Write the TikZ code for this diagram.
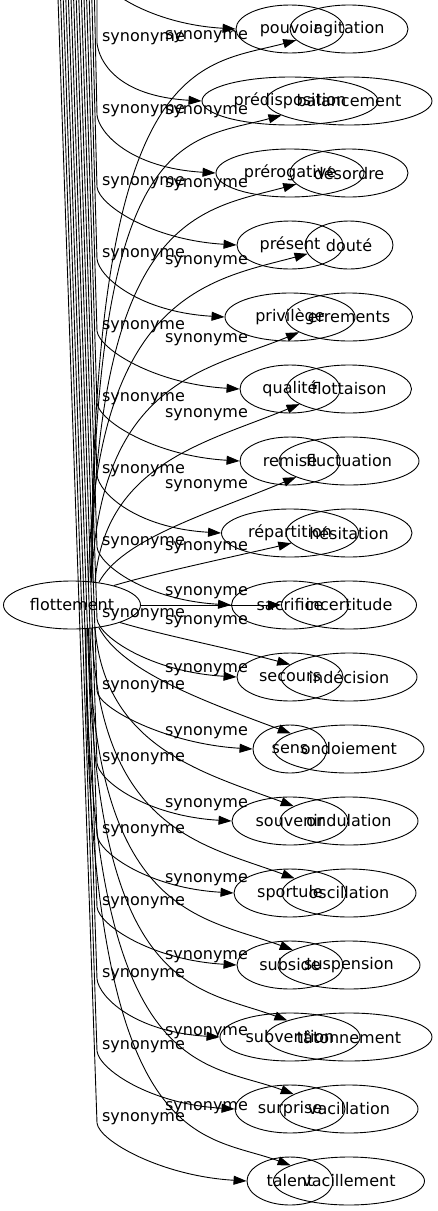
\documentclass[tikz,border=0pt]{standalone}
\usepackage{fontspec}
\setmainfont{DejaVu Sans}
\usetikzlibrary{arrows.meta,shapes.geometric}
\tikzset{
  word/.style={ellipse, draw, line width=0.9pt, inner sep=0pt, minimum height=48pt, font=\fontsize{16}{18}\selectfont},
  lbl/.style={inner sep=0pt, font=\fontsize{16}{18}\selectfont},
  syn/.style={line width=0.9pt, -{Triangle[length=13pt,width=9pt]}}
}
\begin{document}
\begin{tikzpicture}[x=1pt,y=-1pt]
\clip (0,0) rectangle (437,1211);
\node[word, minimum width=137pt] (flottement) at (72,605) {flottement};
% first column of words
\foreach \k/\w/\n in {0/108/pouvoir, 1/176/prédisposition, 2/148/prérogative, 3/106/présent,
  4/130/privilège, 5/100/qualité, 6/100/remise, 7/137/répartition, 8/117/sacrifice,
  9/106/secours, 10/74/sens, 11/116/souvenir, 12/112/sportule, 13/106/subside,
  14/140/subvention, 15/110/surprise, 16/86/talent}
  \node[word, minimum width=\w pt] (wa\k) at (290,29+72*\k) {\n};
% second column of words
\foreach \k/\w/\n in {0/118/agitation, 1/166/balancement, 2/118/désordre, 3/88/douté,
  4/127/errements, 5/125/flottaison, 6/140/fluctuation, 7/126/hésitation, 8/135/incertitude,
  9/136/indécision, 10/150/ondoiement, 11/138/ondulation, 12/134/oscillation,
  13/142/suspension, 14/166/tâtonnement, 15/138/vacillation, 16/151/vacillement}
  \node[word, minimum width=\w pt] (wb\k) at (349,29+72*\k) {\n};
% edges coming down from above
\coordinate (bend0) at (97,-29);
\draw[syn] (bend0) .. controls +(2,18) and +(-85,-5) .. (wa0.west);
\foreach \k in {1,...,16}{
  \coordinate (top\k) at ({97-2.6*(\k-1)},-2);
  \coordinate (bend\k) at (97,{72*\k-29});
  \draw[syn] (top\k) -- (bend\k) .. controls +(2,18) and +(-85,-5) .. (wa\k.west);
  \node[lbl] (la\k) at (143.5,{72*\k-33}) {synonyme};
}
% edges from flottement
\draw[syn] (flottement) -- (wb8);
\foreach \k/\s/\ax/\ay/\bx/\by/\e in {0/50/0/-530/-97/26/192, 1/50/2/-454/-97/26/192,
  2/50/4/-367/-97/26/192, 3/55/5/-288/-97/26/192, 4/50/8/-202/-92/38/197,
  5/45/10/-119/-92/38/197, 6/40/23/-43/-92/38/197, 7/25/40/-12/-60/14/190,
  9/340/40/12/-60/-16/168, 10/320/23/43/-92/-34/165, 11/315/10/119/-92/-34/165,
  12/310/8/202/-92/-34/165, 13/305/5/288/-92/-34/165, 14/305/4/367/-92/-34/165,
  15/300/2/454/-92/-34/165, 16/300/0/530/-92/-34/165}
  \draw[syn] (flottement.\s) .. controls +(\ax,\ay) and +(\bx,\by) .. (wb\k.\e);
\foreach \k/\y in {0/37, 1/112, 2/185, 3/262, 4/340, 5/415, 6/486, 7/548, 8/593,
  9/622, 10/670, 11/733, 12/805, 13/880, 14/957, 15/1033, 16/1108}
  \node[lbl] (lb\k) at (206.5,\y) {synonyme};
\end{tikzpicture}
\end{document}
